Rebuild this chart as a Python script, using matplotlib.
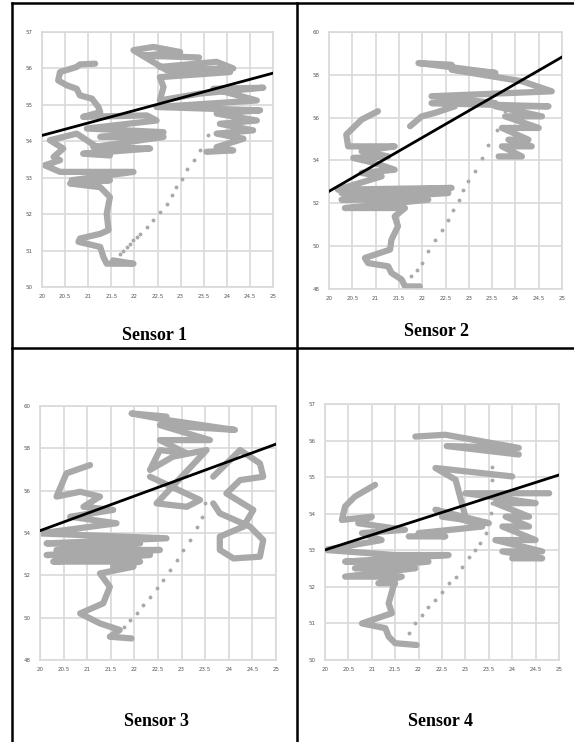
import numpy as np
import matplotlib
matplotlib.use("Agg")
from matplotlib import pyplot as plt
from matplotlib.lines import Line2D

nan = np.nan

# shared x axis (temperature-like scale)
x_ticks = [20.0, 20.5, 21.0, 21.5, 22.0, 22.5, 23.0, 23.5, 24.0, 24.5, 25.0]

# ---- Sensor 1 ----
s1_y_ticks = [50, 51, 52, 53, 54, 55, 56, 57]
s1_path_x = [21.15, 20.82, 20.75, 20.39, 20.35, 20.53, 20.75, 20.82, 21.08, 21.22, 21.26,
             20.89, 22.27, 22.48, 20.97, 22.63, 21.26, 22.63, 21.11, 22.34, 20.89, 21.47,
             20.75, 20.17, 20.46, 20.25, 20.39, 20.06, 20.39, 21.98, 20.64, 21.47, 20.61,
             21.26, 21.47, 21.40, 21.44, 21.26, 20.82, 20.79, 21.26, 21.33, 21.40, 21.98, 21.54,
             nan,
             23.56, 24.14, 23.78, 24.36, 23.78, 24.57, 23.85, 24.65, 23.78, 24.72, 22.48,
             24.65, 23.71, 24.79, 23.42, 22.55, 22.63, 22.55, 24.07, 22.55, 23.78, 24.14,
             22.70, 21.98, 22.41, 22.99, 22.20, 23.40]
s1_path_y = [56.13, 56.11, 56.04, 55.90, 55.67, 55.54, 55.44, 55.26, 55.17, 54.94, 54.80,
             54.67, 54.71, 54.57, 54.35, 54.25, 54.12, 54.12, 53.84, 53.80, 53.66, 53.61,
             54.21, 54.03, 53.80, 53.57, 53.48, 53.34, 53.16, 53.16, 52.93, 52.93, 52.84,
             52.74, 52.47, 52.01, 51.56, 51.46, 51.33, 51.24, 51.10, 50.82, 50.64, 50.64, 50.73,
             nan,
             53.71, 53.75, 53.84, 54.07, 54.21, 54.30, 54.48, 54.57, 54.76, 54.85, 54.94,
             55.12, 55.44, 55.47, 55.31, 55.12, 55.49, 55.76, 55.90, 56.04, 56.18, 56.00,
             55.95, 56.50, 56.59, 56.45, 56.35, 56.30]
s1_dots_x = [21.69, 21.76, 21.83, 21.90, 21.98, 22.05, 22.12, 22.27, 22.41, 22.55, 22.70,
             22.81, 22.91, 23.02, 23.13, 23.28, 23.42, 23.60]
s1_dots_y = [50.91, 51.00, 51.10, 51.19, 51.28, 51.37, 51.46, 51.65, 51.83, 52.06, 52.29,
             52.52, 52.74, 52.97, 53.25, 53.48, 53.75, 54.16]
s1_fit_x = [20.0, 25.0]
s1_fit_y = [54.16, 55.87]

# ---- Sensor 2 ----
s2_y_ticks = [48, 50, 52, 54, 56, 58, 60]
s2_path_x = [21.05, 20.70, 20.37, 20.41, 21.41, 20.70, 21.27, 20.52, 20.98, 21.41, 20.70,
             21.13, 20.19, 22.63, 20.27, 22.56, 20.27, 22.13, 20.34, 21.63, 21.41, 21.48,
             21.34, 21.31, 20.77, 20.84, 21.27, 21.34, 21.56, 21.63, 21.95,
             nan,
             21.74, 21.99, 22.27, 22.70,
             nan,
             23.64, 24.14, 23.71, 24.35, 23.85, 24.28, 23.71, 24.50, 23.78, 24.57, 23.57,
             24.71, 22.20, 23.57, 22.20, 24.78, 24.14, 22.63, 23.57, 21.92, 22.63]
s2_path_y = [56.30, 55.91, 55.21, 54.66, 54.66, 54.43, 54.19, 54.12, 53.88, 53.57, 53.42,
             53.26, 52.64, 52.72, 52.48, 52.48, 52.17, 52.17, 51.78, 51.78, 51.39, 50.93,
             50.30, 49.84, 49.45, 49.21, 49.06, 48.75, 48.44, 48.12, 48.12,
             nan,
             55.60, 56.06, 56.22, 56.53,
             nan,
             54.19, 54.19, 54.66, 54.66, 54.97, 54.97, 55.52, 55.52, 56.06, 56.06, 56.53,
             56.53, 56.68, 56.68, 57.00, 57.23, 57.70, 58.24, 58.09, 58.55, 58.47]
s2_dots_x = [21.77, 21.88, 21.99, 22.13, 22.27, 22.42, 22.56, 22.67, 22.78, 22.88, 22.99,
             23.13, 23.28, 23.42, 23.60, 23.78]
s2_dots_y = [48.59, 48.90, 49.21, 49.76, 50.30, 50.77, 51.24, 51.70, 52.17, 52.64, 53.03,
             53.49, 54.12, 54.74, 55.44, 56.30]
s2_fit_x = [20.0, 25.0]
s2_fit_y = [52.56, 58.83]

# ---- Sensor 3 ----
s3_y_ticks = [48, 50, 52, 54, 56, 58, 60]
s3_path_x = [21.06, 20.56, 20.35, 20.85, 21.27, 20.92, 21.55, 20.64, 21.62, 20.00, 22.68,
             20.14, 22.12, 20.35, 22.54, 20.14, 22.33, 20.28, 22.12, 21.55, 21.98, 21.27,
             21.48, 21.34, 20.85, 21.27, 21.69, 21.48, 21.94,
             nan,
             22.33, 23.39, 23.11, 22.47, 23.53, 22.82, 22.33, 22.54, 23.11, 22.54, 23.60,
             22.54, 24.13, 22.68, 21.94, 22.68,
             nan,
             23.67, 24.24, 24.66, 24.73, 24.24, 23.95, 24.52, 24.31, 23.81, 23.81, 24.10,
             24.66, 24.73, 24.45, 23.81, 23.67]
s3_path_y = [57.21, 56.82, 55.72, 55.95, 55.72, 55.24, 55.09, 54.77, 54.46, 53.98, 53.75,
             53.51, 53.51, 53.20, 53.20, 52.96, 52.96, 52.65, 52.65, 52.41, 52.41, 52.09,
             51.46, 50.68, 50.20, 49.73, 49.42, 49.10, 49.02,
             nan,
             56.66, 55.56, 55.24, 55.40, 57.92, 57.61, 56.98, 57.92, 57.76, 58.39, 58.39,
             59.10, 58.87, 59.34, 59.65, 59.50,
             nan,
             56.66, 57.92, 57.29, 56.66, 56.50, 55.87, 55.09, 54.30, 53.83, 53.20, 52.80,
             52.88, 53.67, 54.30, 54.93, 55.40]
s3_dots_x = [21.77, 21.91, 22.05, 22.19, 22.33, 22.47, 22.61, 22.75, 22.90, 23.04, 23.18,
             23.32, 23.43, 23.50]
s3_dots_y = [49.57, 49.89, 50.20, 50.60, 50.99, 51.39, 51.78, 52.25, 52.72, 53.20, 53.67,
             54.30, 54.77, 55.40]
s3_fit_x = [20.0, 25.0]
s3_fit_y = [54.11, 58.20]

# ---- Sensor 4 ----
s4_y_ticks = [50, 51, 52, 53, 54, 55, 56, 57]
s4_path_x = [21.07, 20.64, 20.43, 20.36, 21.00, 20.71, 21.71, 20.79, 21.21, 20.00, 21.50,
             22.64, 20.43, 22.21, 20.64, 21.93, 20.43, 21.64, 21.14, 21.50, 21.46, 21.36,
             21.43, 20.79, 21.29, 21.36, 21.50, 21.96,
             nan,
             21.79, 22.57, 22.00, 23.36, 22.36, 23.50, 22.50, 23.00, 22.79, 22.36, 24.00,
             nan,
             24.00, 24.64, 23.79, 24.64, 23.64, 24.50, 23.79, 24.36, 23.86, 24.36, 23.64,
             24.50, 23.00, 24.79,
             nan,
             21.93, 22.57, 24.14, 22.60, 24.14]
s4_path_y = [54.79, 54.47, 54.20, 53.83, 53.92, 53.74, 53.56, 53.47, 53.28, 53.01, 52.87,
             52.87, 52.69, 52.69, 52.51, 52.51, 52.28, 52.28, 52.10, 52.10, 52.01, 51.55,
             51.28, 51.00, 50.87, 50.64, 50.46, 50.41,
             nan,
             53.38, 53.38, 53.47, 53.65, 54.11, 53.74, 53.92, 53.92, 54.93, 55.25, 55.02,
             nan,
             52.78, 52.78, 52.97, 52.97, 53.28, 53.28, 53.65, 53.65, 53.92, 53.92, 54.29,
             54.29, 54.56, 54.56,
             nan,
             56.11, 56.16, 55.80, 55.85, 55.62]
s4_dots_x = [21.79, 21.93, 22.07, 22.21, 22.36, 22.50, 22.64, 22.79, 22.93, 23.07, 23.21,
             23.32, 23.43, 23.50, 23.54, 23.57, 23.57, 23.57, 23.57]
s4_dots_y = [50.73, 51.00, 51.23, 51.46, 51.64, 51.87, 52.10, 52.28, 52.55, 52.83, 53.01,
             53.19, 53.47, 53.74, 54.01, 54.29, 54.56, 54.93, 55.29]
s4_fit_x = [20.0, 25.0]
s4_fit_y = [53.01, 55.06]

sensors = [
    ("Sensor 1", s1_y_ticks, s1_path_x, s1_path_y, s1_dots_x, s1_dots_y, s1_fit_x, s1_fit_y),
    ("Sensor 2", s2_y_ticks, s2_path_x, s2_path_y, s2_dots_x, s2_dots_y, s2_fit_x, s2_fit_y),
    ("Sensor 3", s3_y_ticks, s3_path_x, s3_path_y, s3_dots_x, s3_dots_y, s3_fit_x, s3_fit_y),
    ("Sensor 4", s4_y_ticks, s4_path_x, s4_path_y, s4_dots_x, s4_dots_y, s4_fit_x, s4_fit_y),
]

# axes boxes (figure fractions) and title anchor points
boxes = [(0.0732, 0.6132, 0.4024, 0.3437),
         (0.5732, 0.6105, 0.4059, 0.3464),
         (0.0697, 0.1105, 0.4111, 0.3423),
         (0.5662, 0.1105, 0.4077, 0.3450)]
title_pos = [(0.270, 0.5485), (0.7596, 0.5526), (0.2718, 0.027), (0.7666, 0.027)]

gray = "#a9a9a9"
grid = "#d9d9d9"

fig = plt.figure(figsize=(5.74, 7.42), dpi=100)

for (name, yt, px, py, dx, dy, fx, fy), box, tp in zip(sensors, boxes, title_pos):
    ax = fig.add_axes(box)
    ax.plot(px, py, color=gray, lw=4.5, solid_capstyle="round", solid_joinstyle="round", zorder=2)
    ax.plot(dx, dy, "o", color=gray, ms=2.8, mew=0, zorder=2)
    ax.plot(fx, fy, color="black", lw=2, zorder=3)
    ax.set_xlim(x_ticks[0], x_ticks[-1])
    ax.set_ylim(yt[0], yt[-1])
    ax.set_xticks(x_ticks)
    ax.set_xticklabels([f"{v:g}" for v in x_ticks])
    ax.set_yticks(yt)
    ax.set_yticklabels([f"{v:g}" for v in yt])
    ax.grid(True, color=grid, lw=1.2)
    ax.set_axisbelow(True)
    for sp in ax.spines.values():
        sp.set_color(grid)
        sp.set_linewidth(1.2)
    ax.tick_params(axis="both", length=0, labelsize=4, labelcolor="#555555")
    ax.tick_params(axis="y", pad=7)
    ax.tick_params(axis="x", pad=5)
    fig.text(tp[0], tp[1], name, ha="center", va="center", fontsize=13,
             fontweight="bold", family="Liberation Serif")

# table borders
for xs, ys in [([0.0209, 1.0], [0.996, 0.996]),
               ([0.0209, 0.0209], [0.0, 0.996]),
               ([0.5174, 0.5174], [0.0, 0.996]),
               ([0.0209, 1.0], [0.531, 0.531])]:
    fig.add_artist(Line2D(xs, ys, transform=fig.transFigure, color="black", lw=1.8))

fig.savefig("out.png", dpi=100)
